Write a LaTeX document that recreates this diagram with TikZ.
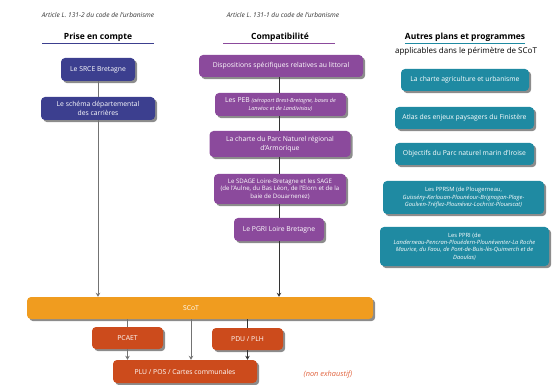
\documentclass[tikz,border=0pt]{standalone}
\usepackage{fontspec}
\setmainfont{Open Sans}
\usetikzlibrary{shadows,arrows.meta}
\definecolor{cblue}{HTML}{3C3F8F}
\definecolor{cpurple}{HTML}{8B4A9C}
\definecolor{cteal}{HTML}{1F8AA2}
\definecolor{corange}{HTML}{F09C1F}
\definecolor{cred}{HTML}{CC4B1C}
\definecolor{cnote}{HTML}{E0603A}
\tikzset{
  box/.style={rounded corners=4pt, text=white, align=center, inner sep=1pt,
    font=\fontsize{6.8}{8.6}\selectfont,
    drop shadow={shadow xshift=2.2pt, shadow yshift=-2.2pt, fill=black, opacity=0.45}},
  bluebox/.style={box, fill=cblue},
  purplebox/.style={box, fill=cpurple},
  tealbox/.style={box, fill=cteal},
  orangebox/.style={box, fill=corange},
  redbox/.style={box, fill=cred},
  link/.style={draw=black!80, line width=0.7pt},
  arrowlink/.style={link, -{Stealth[length=4pt,width=4.5pt]}},
  graylink/.style={draw=black!55, line width=0.7pt},
  grayarrow/.style={graylink, -{Stealth[length=4pt,width=4.5pt]}},
  article/.style={font=\itshape\fontsize{6.6}{8}\selectfont, text=black!80},
  heading/.style={font=\bfseries\fontsize{8.5}{10}\selectfont},
  small/.style={font=\fontsize{6.1}{7.6}\selectfont},
  tiny/.style={font=\fontsize{5.8}{7.2}\selectfont},
}
\begin{document}
\begin{tikzpicture}[x=1pt,y=-1pt]
\useasboundingbox (0,0) rectangle (552,385);

% headings
\node[article] (art2) at (98,15) {Article L. 131-2 du code de l'urbanisme};
\node[heading] (h1) at (98,37) {Prise en compte};
\draw[cblue, line width=0.8pt] (42,43.5) -- (154,43.5);

\node[article] (art1) at (283,15) {Article L. 131-1 du code de l'urbanisme};
\node[heading] (h2) at (280,37) {Compatibilité};
\draw[cpurple, line width=0.8pt] (223,43.5) -- (335,43.5);

\node[heading] (h3) at (465,37) {Autres plans et programmes};
\draw[cteal, line width=0.8pt] (405,43) -- (525,43);
\node[font=\fontsize{8}{9.5}\selectfont] (h3b) at (466,51) {applicables dans le périmètre de SCoT};

% blue column
\node[bluebox, minimum width=74, minimum height=23] (srce) at (98,69.5) {Le SRCE Bretagne};
\node[bluebox, minimum width=114, minimum height=23] (schema) at (98,108.5) {Le schéma départemental\\des carrières};

% purple column
\node[purplebox, minimum width=164, minimum height=22] (litt) at (281,66) {Dispositions spécifiques relatives au littoral};
\node[purplebox, minimum width=131, minimum height=23] (peb) at (280.5,104.5) {Les PEB {\fontsize{5.5}{6.8}\selectfont\itshape (aéroport Brest-Bretagne, bases de}\\{\fontsize{5.5}{6.8}\selectfont\itshape Lanvéoc et de Landivisiau)}};
\node[purplebox, minimum width=141, minimum height=26] (pnr) at (280,144) {La charte du Parc Naturel régional\\d'Armorique};
\node[purplebox, small, minimum width=132, minimum height=30] (sdage) at (280,189) {Le SDAGE Loire-Bretagne et les SAGE\\(de l'Aulne, du Bas Léon, de l'Elorn et de la\\baie de Douarnenez)};
\node[purplebox, minimum width=90, minimum height=23] (pgri) at (279,229.5) {Le PGRI Loire Bretagne};

% teal column
\node[tealbox, minimum width=128, minimum height=22] (agri) at (465,80) {La charte agriculture et urbanisme};
\node[tealbox, minimum width=139, minimum height=22] (atlas) at (464.5,118) {Atlas des enjeux paysagers du Finistère};
\node[tealbox, minimum width=139, minimum height=22] (iroise) at (464.5,154) {Objectifs du Parc naturel marin d'Iroise};
\node[tealbox, tiny, minimum width=161, minimum height=33] (pprsm) at (463.5,197.5) {Les PPRSM (de Plougerneau,\\\itshape Guissény-Kerlouan-Plounéour-Brignogan-Plage-\\\itshape Goulven-Tréflez-Plounévez-Lochrist-Plouescat)};
\node[tealbox, tiny, minimum width=169, minimum height=39] (ppri) at (464.5,246.5) {Les PPRI (de\\\itshape Landerneau-Pencran-Plouédern-Plounéventer-La Roche\\\itshape Maurice, du Faou, de Pont-de-Buis-lès-Quimerch et de\\\itshape Daoulas)};

% bottom
\node[orangebox, minimum width=346, minimum height=22] (scot) at (200,308) {};
\node[text=white, font=\fontsize{6.8}{8}\selectfont] (scotlabel) at (191,308) {SCoT};
\node[redbox, minimum width=71, minimum height=22] (pcaet) at (127.5,338) {PCAET};
\node[redbox, minimum width=71, minimum height=22] (pdu) at (247.5,339) {PDU / PLH};
\node[redbox, minimum width=144, minimum height=23] (plu) at (185,371.5) {PLU / POS / Cartes communales};
\node[text=cnote, font=\itshape\fontsize{7.4}{9}\selectfont] (note) at (328,375) {(non exhaustif)};

% connectors
\coordinate (c1) at (191,319);
\draw[graylink] (srce.south) -- (schema.north);
\draw[grayarrow] (schema.south) -- (schema.south |- scot.north);

\draw[link] (litt.south -| pgri.north) -- (pgri.north |- peb.north);
\draw[link] (pgri.north |- peb.south) -- (pgri.north |- pnr.north);
\draw[link] (pgri.north |- pnr.south) -- (pgri.north |- sdage.north);
\draw[link] (pgri.north |- sdage.south) -- (pgri.north);
\draw[arrowlink] (pgri.south) -- (pgri.south |- scot.north);

\draw[graylink] (pcaet.north |- scot.south) -- (pcaet.north);
\draw[grayarrow] (pcaet.south) -- (pcaet.south |- plu.north);
\draw[grayarrow] (c1) -- (c1 |- plu.north);
\draw[link] (pdu.north |- scot.south) -- (pdu.north);
\draw[arrowlink] (pdu.south) -- (pdu.south |- plu.north);
\end{tikzpicture}
\end{document}
